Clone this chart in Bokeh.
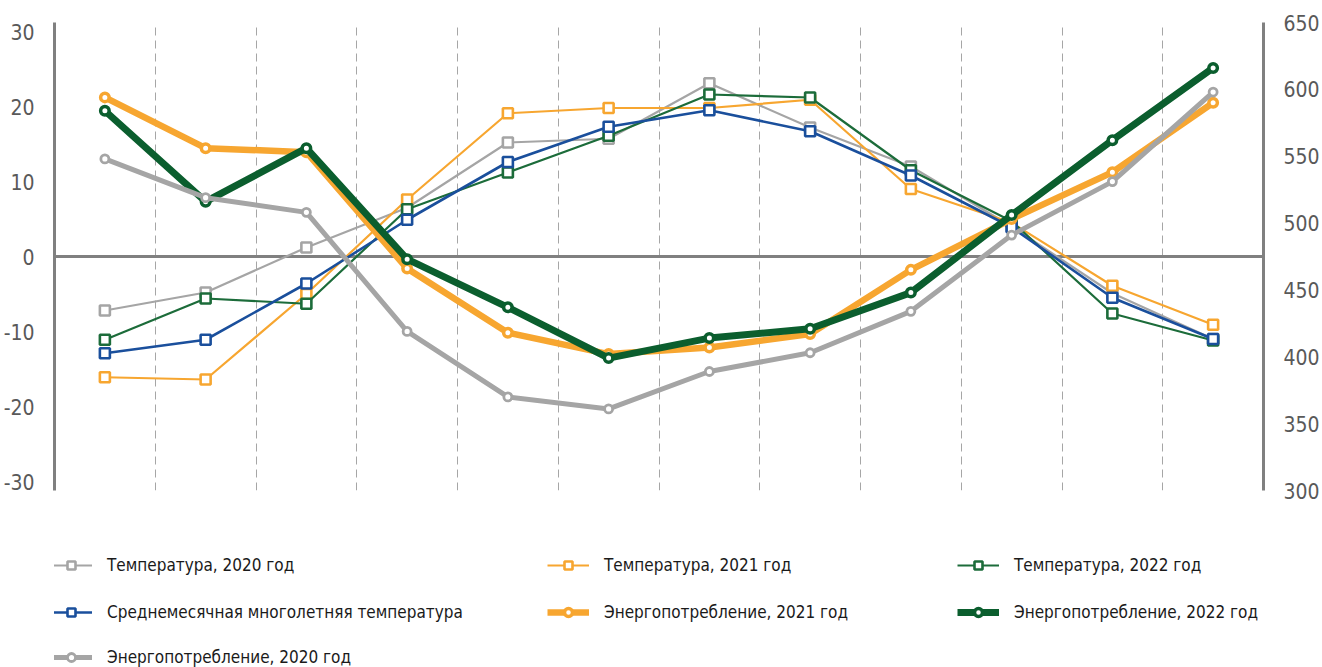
from bokeh.plotting import figure
from bokeh.models import (Range1d, LinearAxis, FixedTicker, Span, Legend, LegendItem)
from bokeh.layouts import column
from bokeh.embed import file_html
from bokeh.resources import INLINE

months = ["Янв", "Фев", "Мар", "Апр", "Май", "Июн", "Июл", "Авг", "Сен", "Окт", "Ноя", "Дек"]
x = [i + 0.5 for i in range(len(months))]

temp_2020 = [-7.2, -4.8, 1.2, 6.5, 15.2, 15.7, 23.1, 17.2, 12.0, 4.0, -4.9, -11.0]
temp_2021 = [-16.1, -16.4, -5.0, 7.6, 19.1, 19.8, 19.8, 20.9, 9.0, 4.5, -3.9, -9.1]
temp_2022 = [-11.1, -5.6, -6.3, 6.3, 11.2, 16.1, 21.6, 21.2, 11.5, 4.7, -7.6, -11.2]
temp_avg = [-12.9, -11.1, -3.6, 4.9, 12.6, 17.3, 19.5, 16.7, 10.8, 3.9, -5.5, -11.0]
energy_2020 = [548, 519, 508, 419, 370, 361, 389, 403, 434, 491, 531, 598]
energy_2021 = [594, 556, 553, 466, 418, 402, 407, 417, 465, 503, 538, 590]
energy_2022 = [584, 516, 556, 473, 437, 399, 414, 421, 448, 506, 562, 616]

left_ticks = [-30, -20, -10, 0, 10, 20, 30]
right_ticks = [300, 350, 400, 450, 500, 550, 600, 650]

labels = ["Температура, 2020 год", "Температура, 2021 год", "Температура, 2022 год",
          "Среднемесячная многолетняя температура", "Энергопотребление, 2021 год",
          "Энергопотребление, 2022 год", "Энергопотребление, 2020 год"]

GRAY = "#A5A5A5"
ORANGE = "#F7A630"
GREEN_T = "#1C6C3A"
GREEN_E = "#0B5E2E"
BLUE = "#1A4F9C"
AX = "#808080"
LBL = "#595959"
FONT = "DejaVu Sans Condensed"

W = 1322
FRAME_LEFT = 54
p = figure(width=W, height=530, output_backend="svg", toolbar_location=None,
           x_range=Range1d(0, 12), y_range=Range1d(-31.2, 31.2),
           min_border_left=FRAME_LEFT, min_border_right=56, min_border_top=22, min_border_bottom=40)
p.outline_line_color = None

p.xaxis.visible = False
p.ygrid.visible = False
p.xgrid.ticker = FixedTicker(ticks=list(range(1, 12)))
p.xgrid.grid_line_color = "#A6A6A6"
p.xgrid.grid_line_width = 1
p.xgrid.grid_line_dash = "8 5"

ya = p.yaxis[0]
ya.ticker = FixedTicker(ticks=left_ticks)
ya.major_label_overrides = {t: str(t) for t in left_ticks}
ya.axis_line_color = AX
ya.axis_line_width = 3
ya.major_tick_line_color = None
ya.minor_tick_line_color = None
ya.major_label_text_color = LBL
ya.major_label_text_font = FONT
ya.major_label_text_font_size = "21px"
ya.major_label_standoff = 14

p.extra_y_ranges = {"right": Range1d(300, 650)}
ra = LinearAxis(y_range_name="right", ticker=FixedTicker(ticks=right_ticks))
ra.axis_line_color = AX
ra.axis_line_width = 3
ra.major_tick_line_color = None
ra.minor_tick_line_color = None
ra.major_label_text_color = LBL
ra.major_label_text_font = FONT
ra.major_label_text_font_size = "21px"
ra.major_label_standoff = 14
p.add_layout(ra, "right")

zero = Span(location=0, dimension="width", line_color=AX, line_width=3, level="underlay")
p.add_layout(zero)

styles = [
    (temp_2020, GRAY, 2.2, "square", 10, 2.6, None),
    (temp_2021, ORANGE, 2.2, "square", 10, 2.6, None),
    (temp_2022, GREEN_T, 2.2, "square", 10, 2.6, None),
    (temp_avg, BLUE, 2.6, "square", 10, 2.6, None),
    (energy_2021, ORANGE, 6.5, "circle", 8.5, 3.5, "right"),
    (energy_2022, GREEN_E, 7, "circle", 8.5, 3.5, "right"),
    (energy_2020, GRAY, 5, "circle", 8, 2.8, "right"),
]

def series(fig, vals, color, lw, marker, msize, mlw, yname, visible=True):
    kw = {}
    if yname:
        kw["y_range_name"] = yname
    l = fig.line(x, vals, line_color=color, line_width=lw, visible=visible, **kw)
    s = fig.scatter(x, vals, marker=marker, size=msize, fill_color="white",
                    line_color=color, line_width=mlw, visible=visible, **kw)
    return [l, s]

for st in styles:
    series(p, *st)

# legend panel below the chart (its frame is aligned with the chart's frame)
LH = 137
lp = figure(width=W, height=LH, output_backend="svg", toolbar_location=None,
            x_range=Range1d(0, 12), y_range=Range1d(-31.2, 31.2),
            x_axis_location=None, y_axis_location=None,
            min_border_left=0, min_border_right=0, min_border_top=0, min_border_bottom=0)
lp.extra_y_ranges = {"right": Range1d(300, 650)}
lp.outline_line_color = None
lp.xgrid.visible = False
lp.ygrid.visible = False

leg_renderers = [series(lp, *st, visible=False) for st in styles]

col_x = [50, 547, 957]
row_c = [35, 82, 127]  # row centres from the top of the legend panel
slots = [(0, 0), (1, 0), (2, 0), (0, 1), (1, 1), (2, 1), (0, 2)]

for lab, rend, (ci, ri) in zip(labels, leg_renderers, slots):
    lg = Legend(items=[LegendItem(label=lab, renderers=rend)],
                location=(col_x[ci] - FRAME_LEFT, LH - (row_c[ri] + 10)))
    lg.glyph_width = 42
    lg.glyph_height = 20
    lg.label_height = 20
    lg.padding = 0
    lg.margin = 0
    lg.label_standoff = 15
    lg.border_line_color = None
    lg.background_fill_alpha = 0
    lg.inactive_fill_alpha = 0
    lg.label_text_font = FONT
    lg.label_text_font_size = "17px"
    lg.label_text_color = "#1A1A1A"
    lg.label_text_baseline = "middle"
    lp.add_layout(lg)

layout = column(p, lp, spacing=0)
open("out.html", "w").write(file_html(layout, INLINE))
